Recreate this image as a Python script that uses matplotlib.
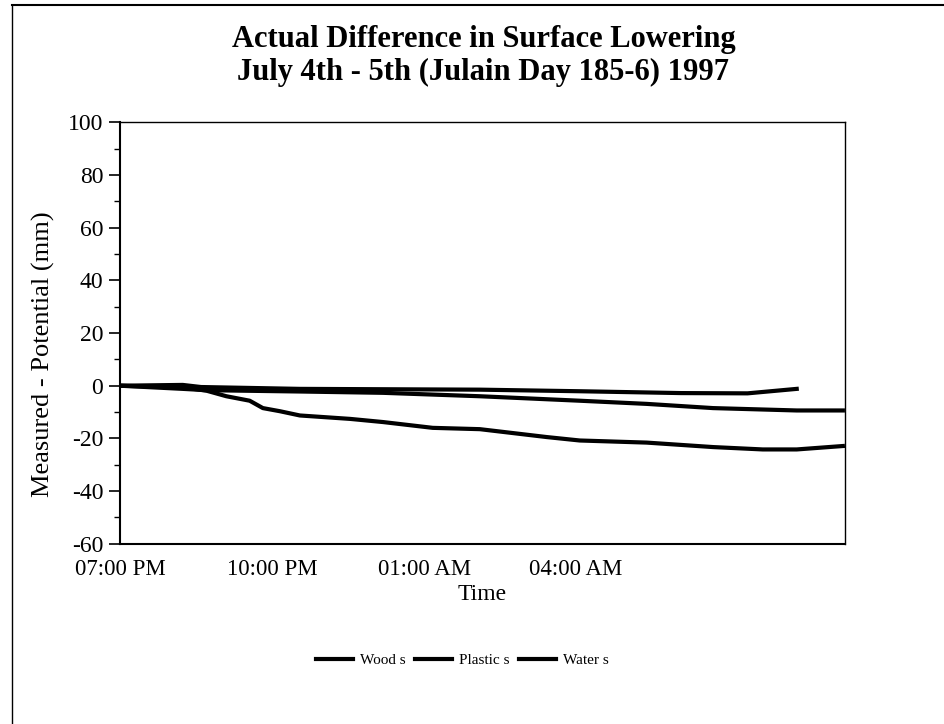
import numpy as np
import matplotlib
matplotlib.use("Agg")
import matplotlib.pyplot as plt
from matplotlib.lines import Line2D
from matplotlib.ticker import MultipleLocator

# hours since 07:00 PM, July 4th
water_t = [0, 1.24, 1.71, 2.10, 2.56, 2.82, 3.16, 3.55, 4.54, 5.19, 6.17, 7.10,
           8.42, 9.07, 10.39, 11.70, 12.68, 13.35, 14.26]
water_v = [0, -0.6, -1.9, -4.0, -5.7, -8.5, -9.7, -11.3, -12.6, -13.8, -16.0, -16.5,
           -19.5, -20.8, -21.6, -23.3, -24.2, -24.2, -22.9]

plastic_t = [0, 1.24, 1.71, 3.55, 5.19, 7.10, 9.07, 10.39, 11.70, 13.35, 14.26]
plastic_v = [0, -1.2, -1.7, -2.2, -2.7, -4.0, -5.7, -6.9, -8.5, -9.4, -9.4]

wood_t = [0, 1.24, 1.60, 3.55, 7.10, 9.07, 11.07, 12.38, 13.35]
wood_v = [0, 0.3, -0.5, -1.2, -1.5, -2.1, -2.8, -2.9, -1.2]

tick_hours = [0, 3, 6, 9]
tick_labels = ["07:00 PM", "10:00 PM", "01:00 AM", "04:00 AM"]

plt.rcParams['font.family'] = ['Liberation Serif', 'DejaVu Serif']
plt.rcParams['axes.unicode_minus'] = False

fig = plt.figure(figsize=(9.44, 7.24), dpi=100)
ax = fig.add_axes([0.127, 0.249, 0.768, 0.582])

ax.plot(wood_t, wood_v, color='black', lw=3, label='Wood s')
ax.plot(plastic_t, plastic_v, color='black', lw=3, label='Plastic s')
ax.plot(water_t, water_v, color='black', lw=3, label='Water s')

ax.set_xlim(0, 14.3)
ax.set_ylim(-60, 100)
ax.set_xticks(tick_hours)
ax.set_xticklabels(tick_labels)
ax.yaxis.set_major_locator(MultipleLocator(20))
ax.yaxis.set_minor_locator(MultipleLocator(10))
ax.tick_params(axis='x', length=0, labelsize=16.5, pad=11)
ax.tick_params(axis='y', which='major', length=8, width=1.2, labelsize=17, pad=4)
ax.tick_params(axis='y', which='minor', length=4, width=1)
for sp in ax.spines.values():
    sp.set_linewidth(1)
ax.spines['left'].set_linewidth(1.5)
ax.spines['bottom'].set_linewidth(1.5)

ax.set_xlabel('Time', fontsize=17, labelpad=3)
ax.set_ylabel('Measured - Potential (mm)', fontsize=19)
ax.yaxis.set_label_coords(-0.09, 0.45)

fig.text(0.512, 0.9227, 'Actual Difference in Surface Lowering\nJuly 4th - 5th (Julain Day 185-6) 1997',
         ha='center', va='center', fontsize=22, fontweight='bold', linespacing=1.2)

fig.legend(loc='center', bbox_to_anchor=(0.49, 0.088), ncol=3, frameon=False,
           fontsize=11, handlelength=2.4, columnspacing=0.6, handletextpad=0.5)

# page frame (left and top edges of the scan)
fig.add_artist(Line2D([12 / 944, 12 / 944], [0, 1 - 5 / 724], transform=fig.transFigure,
                      color='black', lw=1))
fig.add_artist(Line2D([12 / 944, 1], [1 - 5 / 724, 1 - 5 / 724], transform=fig.transFigure,
                      color='black', lw=1.5))

fig.savefig('out.png', dpi=100)
